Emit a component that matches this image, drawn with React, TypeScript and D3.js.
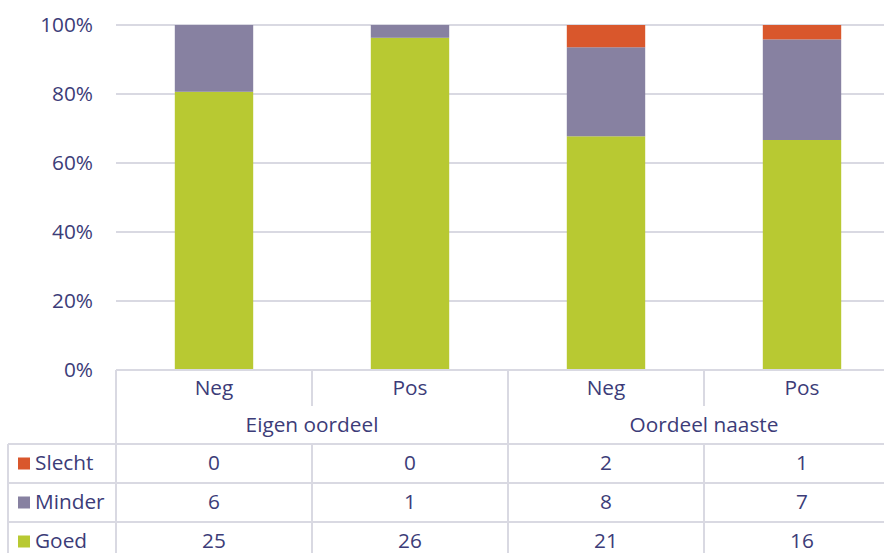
import React from "react";
import * as d3 from "d3";

const groups = ["Eigen oordeel", "Oordeel naaste"];
const subLabels = ["Neg", "Pos", "Neg", "Pos"];
const seriesNames = ["Goed", "Minder", "Slecht"];
const goed = [25, 26, 21, 16];
const minder = [6, 1, 8, 7];
const slecht = [0, 0, 2, 1];
const yTicks = [0, 0.2, 0.4, 0.6, 0.8, 1];
const seriesColors: Record<string, string> = {
  Goed: "#b8c932",
  Minder: "#8781a1",
  Slecht: "#d9572c",
};

const W = 884;
const H = 553;
const plotLeft = 116;
const plotRight = 900;
const plotTop = 25;
const plotBottom = 370;
const groupRowBottom = 444;
const rowH = 39;
const tableLeft = 8;
const textColor = "#3c3c78";
const gridColor = "#d9d9e2";
const font = "'Open Sans', sans-serif";
const fs = 20.8;

export default function App() {
  const keys = subLabels.map((_, i) => String(i));
  const x = d3
    .scaleBand<string>()
    .domain(keys)
    .range([plotLeft, plotRight])
    .paddingInner(0.6)
    .paddingOuter(0.3);
  const cell = d3.scaleBand<string>().domain(keys).range([plotLeft, plotRight]);
  const y = d3.scaleLinear().domain([0, 1]).range([plotBottom, plotTop]);

  const rows = keys.map((k, i) => {
    const total = goed[i] + minder[i] + slecht[i];
    return {
      key: k,
      Goed: goed[i] / total,
      Minder: minder[i] / total,
      Slecht: slecht[i] / total,
    };
  });
  const stacked = d3.stack<any>().keys(seriesNames)(rows);

  const tableRows = [
    { name: "Slecht", values: slecht },
    { name: "Minder", values: minder },
    { name: "Goed", values: goed },
  ];

  const fmt = d3.format(".0%");

  return (
    <svg
      width={W}
      height={H}
      style={{ position: "absolute", left: 0, top: 0, background: "#fff" }}
      fontFamily={font}
    >
      {/* gridlines */}
      {yTicks.map((t) => (
        <line
          key={t}
          x1={plotLeft}
          x2={W}
          y1={y(t)}
          y2={y(t)}
          stroke={gridColor}
          strokeWidth={2}
        />
      ))}
      {/* y tick labels */}
      {yTicks.map((t) => (
        <text
          key={"l" + t}
          x={93}
          y={y(t)}
          dy="0.35em"
          textAnchor="end"
          fontSize={fs}
          fill={textColor}
        >
          {fmt(t)}
        </text>
      ))}
      {/* stacked bars */}
      {stacked.map((s) => (
        <g key={s.key} fill={seriesColors[s.key]}>
          {s.map((d, i) =>
            d[1] - d[0] > 0 ? (
              <rect
                key={i}
                x={x(keys[i])}
                width={x.bandwidth()}
                y={y(d[1])}
                height={y(d[0]) - y(d[1])}
              />
            ) : null
          )}
        </g>
      ))}
      {/* data table grid */}
      <g stroke={gridColor} strokeWidth={2}>
        <line x1={plotLeft} x2={W} y1={plotBottom} y2={plotBottom} />
        {tableRows.map((_, r) => (
          <line
            key={"h" + r}
            x1={tableLeft}
            x2={W}
            y1={groupRowBottom + r * rowH}
            y2={groupRowBottom + r * rowH}
          />
        ))}
        <line x1={tableLeft} x2={tableLeft} y1={groupRowBottom} y2={H} />
        <line x1={plotLeft} x2={plotLeft} y1={plotBottom} y2={H} />
        {keys.slice(1).map((k, i) => {
          const xx = cell(k)!;
          const groupEdge = (i + 1) % 2 === 0;
          return (
            <g key={"v" + k}>
              <line
                x1={xx}
                x2={xx}
                y1={plotBottom}
                y2={groupEdge ? groupRowBottom : 406}
              />
              <line x1={xx} x2={xx} y1={groupRowBottom} y2={H} />
            </g>
          );
        })}
      </g>
      {/* category labels */}
      {subLabels.map((lab, i) => (
        <text
          key={"c" + i}
          x={cell(keys[i])! + cell.bandwidth() / 2}
          y={388}
          dy="0.35em"
          textAnchor="middle"
          fontSize={fs}
          fill={textColor}
        >
          {lab}
        </text>
      ))}
      {groups.map((g, gi) => (
        <text
          key={g}
          x={cell(keys[gi * 2])! + cell.bandwidth()}
          y={425}
          dy="0.35em"
          textAnchor="middle"
          fontSize={fs}
          fill={textColor}
        >
          {g}
        </text>
      ))}
      {/* table rows with legend keys */}
      {tableRows.map((row, r) => {
        const cy = groupRowBottom + r * rowH + rowH / 2;
        return (
          <g key={row.name}>
            <rect
              x={18}
              y={cy - 6}
              width={12}
              height={12}
              fill={seriesColors[row.name]}
            />
            <text x={35} y={cy - 1} dy="0.35em" fontSize={fs} fill={textColor}>
              {row.name}
            </text>
            {row.values.map((v, i) => (
              <text
                key={i}
                x={cell(keys[i])! + cell.bandwidth() / 2}
                y={cy - 1}
                dy="0.35em"
                textAnchor="middle"
                fontSize={fs}
                fill={textColor}
              >
                {v}
              </text>
            ))}
          </g>
        );
      })}
    </svg>
  );
}
